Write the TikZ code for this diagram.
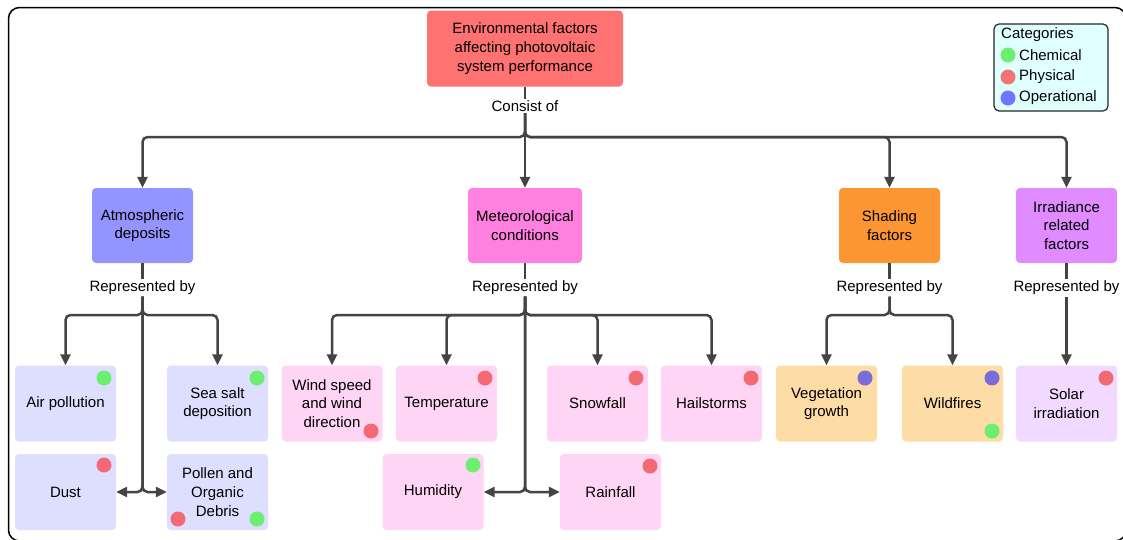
\documentclass[tikz,border=0pt]{standalone}
\usepackage{fontspec}
\setmainfont{Liberation Sans}
\usetikzlibrary{arrows.meta,calc}
\definecolor{topc}{HTML}{FF7272}
\definecolor{atmc}{HTML}{9494FF}
\definecolor{metc}{HTML}{FF80DF}
\definecolor{shdc}{HTML}{FC9633}
\definecolor{irrc}{HTML}{E08BFF}
\definecolor{atml}{HTML}{DEDEFF}
\definecolor{metl}{HTML}{FFD5F5}
\definecolor{shdl}{HTML}{FDDCA6}
\definecolor{irrl}{HTML}{F2D9FF}
\definecolor{legc}{HTML}{E0FFFF}
\definecolor{linec}{HTML}{444444}
\definecolor{dgreen}{HTML}{6CEE70}
\definecolor{dred}{HTML}{F46A74}
\definecolor{dpurple}{HTML}{7A6CD8}
\definecolor{lblue}{HTML}{6E75FF}
\definecolor{lred}{HTML}{F07575}
\begin{document}
\begin{tikzpicture}[x=1pt,y=-1pt,
  every node/.style={font=\fontsize{15}{18.7}\selectfont, text=black},
  catbox/.style={rounded corners=4pt, minimum width=101pt, minimum height=75pt, align=center, inner sep=0pt},
  leafbox/.style={rounded corners=4pt, minimum width=101pt, minimum height=76pt, align=center, inner sep=0pt},
  lbl/.style={inner sep=1.5pt},
  conn/.style={draw=linec, line width=2.5pt, rounded corners=5pt},
  arr/.style={conn, -{Triangle[length=11pt,width=10pt]}},
  dot/.style={circle, minimum size=15pt, inner sep=0pt},
  legtxt/.style={anchor=west, inner sep=0pt}
]
\useasboundingbox (0,0) rectangle (1123,539);
\begin{scope}
\clip (0,0) rectangle (1123,539);
\draw[black, line width=1.5pt, rounded corners=11pt] (8.5,7.5) rectangle (1126,541);
\end{scope}

% top
\node[catbox, fill=topc, minimum width=196pt, minimum height=76pt] (top) at (525,48.5) {Environmental factors\\affecting photovoltaic\\system performance};
\node[lbl] (l0) at (525,106) {Consist of};
\coordinate (j0) at (525,137);

% categories
\node[catbox, fill=atmc] (atm) at (142.5,225.5) {Atmospheric\\deposits};
\node[catbox, fill=metc, minimum width=114pt] (met) at (525,225.5) {Meteorological\\conditions};
\node[catbox, fill=shdc] (shd) at (889.5,225.5) {Shading\\factors};
\node[catbox, fill=irrc] (irr) at (1066.5,225.5) {Irradiance\\related\\factors};

\draw[conn] (top.south) -- (l0.north);
\draw[arr] (l0.south) -- (j0) -| (atm.north);
\draw[arr] (l0.south) -- (met.north);
\draw[arr] (l0.south) -- (j0) -| (shd.north);
\draw[arr] (l0.south) -- (j0) -| (irr.north);

% represented-by labels
\node[lbl] (l1) at (142.5,288) {Represented by};
\node[lbl] (l2) at (525,288) {Represented by};
\node[lbl] (l3) at (889.5,288) {Represented by};
\node[lbl] (l4) at (1066.5,288) {Represented by};
\draw[conn] (atm.south) -- (l1.north);
\draw[conn] (met.south) -- (l2.north);
\draw[conn] (shd.south) -- (l3.north);
\draw[conn] (irr.south) -- (l4.north);
\coordinate (j1) at (142.5,315);
\coordinate (k1) at (142.5,492);
\coordinate (j2) at (525,315);
\coordinate (k2) at (525,492);
\coordinate (j3) at (889.5,315);

% leaves: atmospheric
\node[leafbox, fill=atml] (airp) at (65.5,403.5) {Air pollution};
\node[leafbox, fill=atml] (seas) at (217.5,403.5) {Sea salt\\deposition};
\node[leafbox, fill=atml] (dust) at (65.5,492) {Dust};
\node[leafbox, fill=atml] (poll) at (217.5,492) {Pollen and\\Organic\\Debris};
% leaves: meteorological
\node[leafbox, fill=metl] (wind) at (332,403.5) {Wind speed\\and wind\\direction};
\node[leafbox, fill=metl] (temp) at (446.5,403.5) {Temperature};
\node[leafbox, fill=metl] (snow) at (597.5,403.5) {Snowfall};
\node[leafbox, fill=metl] (hail) at (711.5,403.5) {Hailstorms};
\node[leafbox, fill=metl] (humi) at (433,492) {Humidity};
\node[leafbox, fill=metl] (rain) at (610.5,492) {Rainfall};
% leaves: shading
\node[leafbox, fill=shdl] (vege) at (826.5,403.5) {Vegetation\\growth};
\node[leafbox, fill=shdl] (wild) at (952.5,403.5) {Wildfires};
% leaves: irradiance
\node[leafbox, fill=irrl] (sola) at (1066.5,403.5) {Solar\\irradiation};

% connectors atmospheric
\draw[arr] (l1.south) -- (j1) -| (airp.north);
\draw[arr] (l1.south) -- (j1) -| (seas.north);
\draw[arr] (l1.south) -- (k1) -- (dust.east);
\draw[arr] (l1.south) -- (k1) -- (poll.west);
% connectors meteorological
\draw[arr] (l2.south) -- (j2) -| (wind.north);
\draw[arr] (l2.south) -- (j2) -| (temp.north);
\draw[arr] (l2.south) -- (j2) -| (snow.north);
\draw[arr] (l2.south) -- (j2) -| (hail.north);
\draw[arr] (l2.south) -- (k2) -- (humi.east);
\draw[arr] (l2.south) -- (k2) -- (rain.west);
% connectors shading
\draw[arr] (l3.south) -- (j3) -| (vege.north);
\draw[arr] (l3.south) -- (j3) -| (wild.north);
% connector irradiance
\draw[arr] (l4.south) -- (sola.north);

% category dots
\node[dot, fill=dgreen] (d1) at (104,378) {};
\node[dot, fill=dgreen] (d2) at (257,378) {};
\node[dot, fill=dred] (d3) at (104,465) {};
\node[dot, fill=dred] (d4) at (178,519) {};
\node[dot, fill=dgreen] (d5) at (257,519) {};
\node[dot, fill=dred] (d6) at (371,431) {};
\node[dot, fill=dred] (d7) at (485,378) {};
\node[dot, fill=dred] (d8) at (636,378) {};
\node[dot, fill=dred] (d9) at (751,378) {};
\node[dot, fill=dgreen] (d10) at (473,465) {};
\node[dot, fill=dred] (d11) at (650,466) {};
\node[dot, fill=dpurple] (d12) at (865,378) {};
\node[dot, fill=dpurple] (d13) at (992,378) {};
\node[dot, fill=dgreen] (d14) at (992,431) {};
\node[dot, fill=dred] (d15) at (1106,378) {};

% legend
\node[draw=black!85, line width=1.2pt, fill=legc, rounded corners=5pt, minimum width=114pt, minimum height=87pt, inner sep=0pt] (leg) at (1051,67.5) {};
\node[legtxt] (lt0) at (1001,35) {Categories};
\node[dot, fill=dgreen] (ld1) at (1008,55) {};
\node[legtxt] (lt1) at (1019,55) {Chemical};
\node[dot, fill=lred] (ld2) at (1008,77) {};
\node[legtxt] (lt2) at (1019,77) {Physical};
\node[dot, fill=lblue] (ld3) at (1008,98) {};
\node[legtxt] (lt3) at (1019,98) {Operational};
\end{tikzpicture}
\end{document}
